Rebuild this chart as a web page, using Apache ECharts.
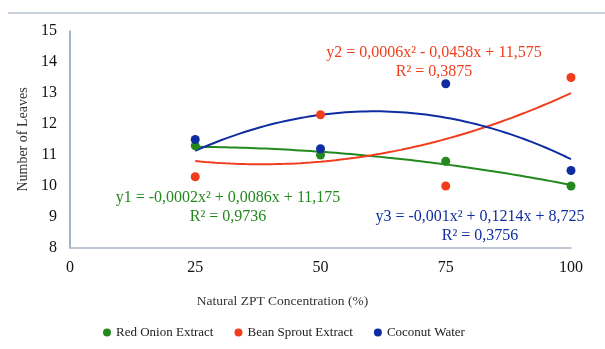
<!DOCTYPE html>
<html><head><meta charset="utf-8">
<script src="https://cdn.jsdelivr.net/npm/echarts@6/dist/echarts.min.js"></script>
<style>html,body{margin:0;padding:0;background:#fff}#c{width:605px;height:349px}</style>
</head><body><div id="c"></div>
<script>
const concentrations = [25, 50, 75, 100];
const redOnion = [11.3, 11.0, 10.8, 10.0];
const beanSprout = [10.3, 12.3, 10.0, 13.5];
const coconut = [11.5, 11.2, 13.3, 10.5];
const seriesNames = ['Red Onion Extract', 'Bean Sprout Extract', 'Coconut Water'];
const colors = ['#23891f', '#f23d1c', '#0f2da0'];
// Trendline coefficients shown in the chart [a, b, c] for a*x^2 + b*x + c
const coef1 = [-0.0002, 0.0086, 11.175];
const coef2 = [0.0006, -0.0458, 11.575];
const coef3 = [-0.001, 0.1214, 8.725];
const eq1 = ['y1 = -0,0002x² + 0,0086x + 11,175', 'R² = 0,9736'];
const eq2 = ['y2 = 0,0006x² - 0,0458x + 11,575', 'R² = 0,3875'];
const eq3 = ['y3 = -0,001x² + 0,1214x + 8,725', 'R² = 0,3756'];
const yTicks = [8, 9, 10, 11, 12, 13, 14, 15];
const xTicks = [0, 25, 50, 75, 100];

function trend(c) {
  const pts = [];
  for (let x = 25; x <= 100; x += 1) pts.push([x, c[0]*x*x + c[1]*x + c[2]]);
  return pts;
}
const pairs = v => concentrations.map((x, i) => [x, v[i]]);
const font = '"Liberation Serif", "DejaVu Serif", serif';

const chart = echarts.init(document.getElementById('c'));
const scatterData = [redOnion, beanSprout, coconut];
const coefs = [coef1, coef2, coef3];
const series = [];
coefs.forEach((c, i) => series.push({
  name: 'trend' + (i+1), type: 'line', data: trend(c), showSymbol: false, silent: true,
  lineStyle: { color: colors[i], width: 2 }, z: 2
}));
scatterData.forEach((v, i) => series.push({
  name: seriesNames[i], type: 'scatter', data: pairs(v), symbolSize: 9,
  itemStyle: { color: colors[i], opacity: 1 }, z: 3
}));

const eqs = [eq1, eq2, eq3];
const eqPos = [[228, 198], [434, 53], [480, 217]];
const graphic = [{
  type: 'line', shape: { x1: 8, y1: 13, x2: 605, y2: 13 },
  style: { stroke: '#c9d3de', lineWidth: 2 }
}];
eqs.forEach((e, i) => {
  graphic.push({ type: 'text', x: eqPos[i][0], y: eqPos[i][1],
    style: { text: e[0], fill: colors[i], font: '16px ' + font, textAlign: 'center', textVerticalAlign: 'middle' } });
  graphic.push({ type: 'text', x: eqPos[i][0], y: eqPos[i][1] + 19,
    style: { text: e[1], fill: colors[i], font: '16px ' + font, textAlign: 'center', textVerticalAlign: 'middle' } });
});

chart.setOption({
  animation: false,
  grid: { left: 70, right: 34, top: 31, bottom: 101 },
  xAxis: {
    type: 'value', min: xTicks[0], max: xTicks[xTicks.length-1], interval: 25,
    name: 'Natural ZPT Concentration (%)', nameLocation: 'middle', nameGap: 46,
    nameTextStyle: { fontFamily: font, fontSize: 13.5, color: '#333', padding: [0, 76, 0, 0] },
    axisLine: { lineStyle: { color: '#a9b6c6', width: 1.5 } },
    axisTick: { show: false }, splitLine: { show: false },
    axisLabel: { fontFamily: font, fontSize: 16, color: '#111', margin: 12 }
  },
  yAxis: {
    type: 'value', min: yTicks[0], max: yTicks[yTicks.length-1], interval: 1,
    name: 'Number of Leaves', nameLocation: 'middle', nameGap: 40, nameRotate: 90,
    nameTextStyle: { fontFamily: font, fontSize: 14, color: '#333' },
    axisLine: { show: true, lineStyle: { color: '#8a9bb0', width: 1.5 } },
    axisTick: { show: false }, splitLine: { show: false },
    axisLabel: { fontFamily: font, fontSize: 16, color: '#111', margin: 13 }
  },
  legend: {
    data: seriesNames, bottom: 5, left: 98, icon: 'circle', itemWidth: 8, itemHeight: 8,
    itemGap: 21, textStyle: { fontFamily: font, fontSize: 13, color: '#222' }
  },
  graphic: graphic,
  series: series
});
</script></body></html>
